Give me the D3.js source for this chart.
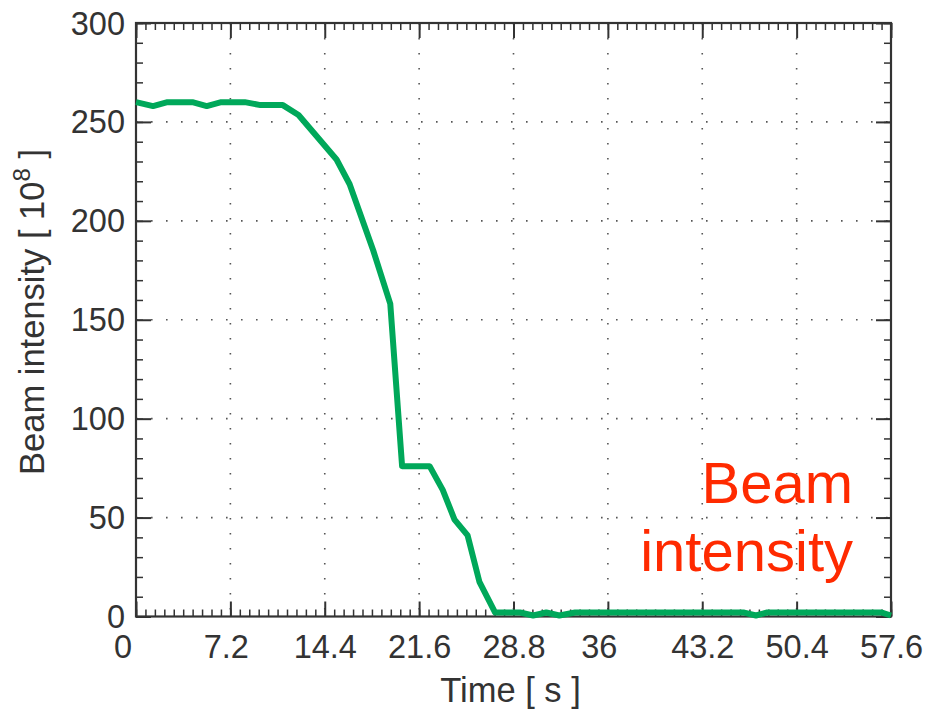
<!DOCTYPE html>
<html>
<head>
<meta charset="utf-8">
<script src="https://cdn.jsdelivr.net/npm/d3@7"></script>
<style>
  body { margin: 0; background: #fff; }
  svg text { font-family: "Liberation Sans", Helvetica, Arial, sans-serif; fill: #333; }
</style>
</head>
<body>
<svg id="chart" width="930" height="709"></svg>
<script>
// values
var timeS = [0, 1.3, 2.4, 4.3, 5.4, 6.5, 8.3, 9.5, 11.2, 12.4, 15.3, 16.3, 18.1, 19.4, 20.3, 22.4, 23.4, 24.3, 25.3, 26.2, 27.4,
  29.3, 30.3, 31.3, 32.3, 33.5, 46.4, 47.3, 48.1, 56.9, 57.6];
var intensity = [260, 258, 260, 260, 258, 260, 260, 258.5, 258.5, 253.5, 231, 218.5, 185, 158, 76, 76, 64, 49, 41, 17.5, 2,
  2, 0.5, 2, 0.5, 2, 2, 0.5, 2, 2, 0.5];

var xTicks = [0, 7.2, 14.4, 21.6, 28.8, 36, 43.2, 50.4, 57.6];
var xTickLabels = ["0", "7.2", "14.4", "21.6", "28.8", "36", "43.2", "50.4", "57.6"];
var yTicks = [0, 50, 100, 150, 200, 250, 300];
var yTickLabels = ["0", "50", "100", "150", "200", "250", "300"];
var xMinor = d3.range(0, 81).map(function(i) { return i * 0.72; });
var yMinor = d3.range(0, 31).map(function(i) { return i * 10; });

// note: "top" is taken by window.top, so use other names
var pL = 136, pR = 891, pT = 23, pB = 616.5;
var svg = d3.select("#chart");

var x = d3.scaleLinear().domain([0, 57.6]).range([pL, pR]);
var y = d3.scaleLinear().domain([0, 300]).range([pB, pT]);

// dotted grid
var grid = svg.append("g").attr("stroke", "#555").attr("stroke-width", 1.6)
  .attr("stroke-dasharray", "1.6,13.4");
grid.selectAll("line.v").data(xTicks.slice(1, -1)).enter().append("line")
  .attr("class", "v")
  .attr("x1", function(d) { return x(d); }).attr("x2", function(d) { return x(d); })
  .attr("y1", pT).attr("y2", pB);
grid.selectAll("line.h").data(yTicks.slice(1, -1)).enter().append("line")
  .attr("class", "h")
  .attr("y1", function(d) { return y(d); }).attr("y2", function(d) { return y(d); })
  .attr("x1", pL).attr("x2", pR);

function styleAxis(g, w) {
  g.select(".domain").remove();
  g.selectAll(".tick line").attr("stroke", "#333").attr("stroke-width", w);
}

// minor ticks, all four sides
svg.append("g").attr("transform", "translate(0," + pB + ")")
  .call(d3.axisBottom(x).tickValues(xMinor).tickSize(-7).tickFormat(""))
  .call(styleAxis, 1.5);
svg.append("g").attr("transform", "translate(0," + pT + ")")
  .call(d3.axisTop(x).tickValues(xMinor).tickSize(-7).tickFormat(""))
  .call(styleAxis, 1.5);
svg.append("g").attr("transform", "translate(" + pL + ",0)")
  .call(d3.axisLeft(y).tickValues(yMinor).tickSize(-7).tickFormat(""))
  .call(styleAxis, 1.5);
svg.append("g").attr("transform", "translate(" + pR + ",0)")
  .call(d3.axisRight(y).tickValues(yMinor).tickSize(-7).tickFormat(""))
  .call(styleAxis, 1.5);

// major ticks + labels (labels padded like matlab does)
var xAxis = svg.append("g").attr("transform", "translate(0," + pB + ")")
  .call(d3.axisBottom(x).tickValues(xTicks).tickSize(-15)
    .tickFormat(function(d, i) { return (xTickLabels[i] + "    ").slice(0, 4); }))
  .call(styleAxis, 2);
xAxis.selectAll("text").attr("y", 41.5).attr("dy", null)
  .style("white-space", "pre").style("font-size", "32.5px").style("fill", "#333");

svg.append("g").attr("transform", "translate(0," + pT + ")")
  .call(d3.axisTop(x).tickValues(xTicks).tickSize(-15).tickFormat(""))
  .call(styleAxis, 2);

var yAxis = svg.append("g").attr("transform", "translate(" + pL + ",0)")
  .call(d3.axisLeft(y).tickValues(yTicks).tickSize(-15).tickPadding(11)
    .tickFormat(function(d, i) { return yTickLabels[i]; }))
  .call(styleAxis, 2);
yAxis.selectAll("text").attr("dy", "0.34em").style("font-size", "32.5px").style("fill", "#333");

svg.append("g").attr("transform", "translate(" + pR + ",0)")
  .call(d3.axisRight(y).tickValues(yTicks).tickSize(-15).tickFormat(""))
  .call(styleAxis, 2);

// box
svg.append("rect")
  .attr("x", pL).attr("y", pT)
  .attr("width", pR - pL).attr("height", pB - pT)
  .attr("fill", "none").attr("stroke", "#333").attr("stroke-width", 2.2);

// the beam curve
var line = d3.line()
  .x(function(d, i) { return x(timeS[i]); })
  .y(function(d) { return y(d); });
svg.append("path")
  .datum(intensity)
  .attr("d", line)
  .attr("fill", "none")
  .attr("stroke", "#00a85a")
  .attr("stroke-width", 6)
  .attr("stroke-linejoin", "round");

// axis titles
svg.append("text")
  .attr("x", (pL + pR) / 2 - 3).attr("y", 702)
  .attr("text-anchor", "middle")
  .style("font-size", "34.5px")
  .text("Time [ s ]");

var yt = svg.append("text")
  .attr("transform", "translate(44," + 312 + ") rotate(-90)")
  .attr("text-anchor", "middle")
  .style("font-size", "34.5px");
yt.append("tspan").text("Beam intensity [ 10");
yt.append("tspan").attr("dy", -14).style("font-size", "24px").text("8");
yt.append("tspan").attr("dy", 14).text(" ]");

// red annotation
var note = svg.append("text")
  .attr("text-anchor", "end")
  .style("font-size", "58px")
  .style("fill", "#ff2a00");
note.append("tspan").attr("x", 853).attr("y", 503).text("Beam");
note.append("tspan").attr("x", 853).attr("y", 571).text("intensity");
</script>
</body>
</html>
